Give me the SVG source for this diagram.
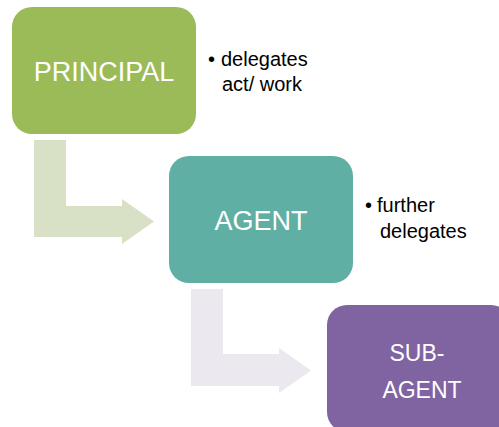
<svg xmlns="http://www.w3.org/2000/svg" width="499" height="427" viewBox="0 0 499 427">
<style>
.lbl{font-family:"Liberation Sans",Arial,sans-serif;fill:#ffffff;text-anchor:middle}
.note{font-family:"Liberation Sans",Arial,sans-serif;fill:#000000;font-size:20px}
</style>
<rect width="499" height="427" fill="#ffffff"/>
<g id="connectors">
<path d="M34,140 H66 V206 H122 V199 L154,221.5 L122,244 V237 H34 Z" fill="#D8E1C5"/>
<path d="M191,289 H223 V354 H279 V348 L311,370.5 L279,393 V386 H191 Z" fill="#EBE8EF"/>
</g>
<g id="principal">
<rect x="12" y="7" width="184" height="127" rx="20" fill="#9BBB59"/>
<text class="lbl" x="104" y="81" font-size="27">PRINCIPAL</text>
</g>
<g id="principal-note">
<text class="note" x="208" y="66">•</text>
<text class="note" x="221" y="66">delegates</text>
<text class="note" x="222" y="91">act/ work</text>
</g>
<g id="agent">
<rect x="169" y="156" width="184" height="127" rx="20" fill="#5FAFA5"/>
<text class="lbl" x="261" y="230" font-size="27">AGENT</text>
</g>
<g id="agent-note">
<text class="note" x="365" y="212">•</text>
<text class="note" x="377" y="212">further</text>
<text class="note" x="380" y="238">delegates</text>
</g>
<g id="sub-agent">
<rect x="327" y="305" width="184" height="127" rx="20" fill="#8064A2"/>
<text class="lbl" x="417" y="361" font-size="23">SUB-</text>
<text class="lbl" x="422" y="398" font-size="23">AGENT</text>
</g>
</svg>
